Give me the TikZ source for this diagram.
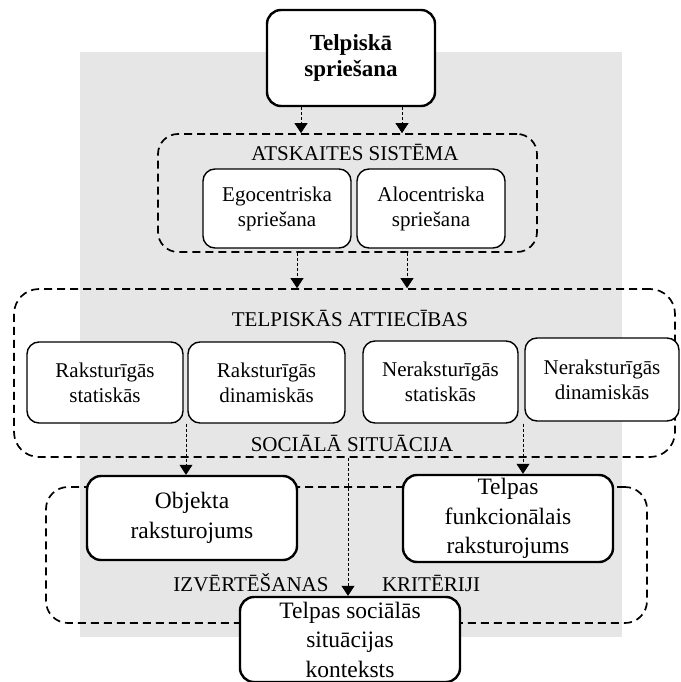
\documentclass[tikz,border=0pt]{standalone}
\usepackage{fontspec}
\setmainfont{Liberation Serif}
\usetikzlibrary{arrows.meta}
\definecolor{bg}{RGB}{230,230,230}
\begin{document}
\begin{tikzpicture}[x=1pt,y=-1pt,
  thinbox/.style={draw=black, fill=white, line width=1.4pt, rounded corners=12pt, align=center, font=\fontsize{21}{25}\selectfont, inner sep=0pt},
  thickbox/.style={draw=black, fill=white, line width=2.4pt, rounded corners=14pt, align=center, font=\fontsize{23.5}{29.5}\selectfont, inner sep=0pt},
  dbox/.style={draw=black, line width=1.7pt, dash pattern=on 8pt off 5pt, rounded corners=20pt, inner sep=0pt},
  lbl/.style={font=\fontsize{21}{25}\selectfont, inner sep=0pt},
  arr/.style={line width=0.8pt, dash pattern=on 3pt off 2pt, -{Triangle[width=13pt,length=10pt]}},
]
\useasboundingbox (0,0) rectangle (680,682);
\fill[bg] (80,52) rectangle (622,637);

% dashed group boxes
\node[dbox, minimum width=379, minimum height=118] (atsk) at (347.5,193) {};
\node[dbox, rounded corners=25pt, minimum width=661, minimum height=168] (big) at (344.5,373) {};
\node[dbox, rounded corners=22pt, minimum width=601, minimum height=136] (low) at (346.5,555) {};

% solid boxes
\node[thickbox, font=\bfseries\fontsize{23}{26}\selectfont, minimum width=168, minimum height=96] (top) at (351,58) {Telpiskā\\spriešana};
\node[thinbox, minimum width=148, minimum height=79] (ego) at (277,208.5) {Egocentriska\\spriešana};
\node[thinbox, minimum width=148, minimum height=79] (alo) at (431,208.5) {Alocentriska\\spriešana};
\node[thinbox, minimum width=156, minimum height=81] (b1) at (105,382.5) {Raksturīgās\\statiskās};
\node[thinbox, minimum width=157, minimum height=81] (b2) at (266.5,382.5) {Raksturīgās\\dinamiskās};
\node[thinbox, minimum width=155, minimum height=82] (b3) at (440.5,382) {Neraksturīgās\\statiskās};
\node[thinbox, minimum width=154, minimum height=83] (b4) at (602,379.5) {Neraksturīgās\\dinamiskās};
\node[thickbox, minimum width=210, minimum height=84] (obj) at (192,518) {Objekta\\raksturojums};
\node[thickbox, minimum width=210, minimum height=87] (fun) at (508,518.5) {Telpas\\funkcionālais\\raksturojums};
\node[thickbox, minimum width=220, minimum height=85] (soc) at (350,639.5) {Telpas sociālās\\situācijas\\konteksts};

% labels
\node[lbl] (l1) at (355,152) {ATSKAITES SISTĒMA};
\node[lbl] (l2) at (350,318) {TELPISKĀS ATTIECĪBAS};
\node[lbl] (l3) at (352,443) {SOCIĀLĀ SITUĀCIJA};
\node[lbl] (l4) at (251,583) {IZVĒRTĒŠANAS};
\node[lbl] (l5) at (431,583) {KRITĒRIJI};

% connectors
\coordinate (x1) at (301,0);
\coordinate (x2) at (402,0);
\coordinate (x3) at (297,0);
\coordinate (x4) at (407,0);
\coordinate (x5) at (186,0);
\coordinate (x6) at (523,0);
\coordinate (x7) at (348,0);
\draw[arr] (top.south -| x1) -- (atsk.north -| x1);
\draw[arr] (top.south -| x2) -- (atsk.north -| x2);
\draw[arr] (atsk.south -| x3) -- (big.north -| x3);
\draw[arr] (atsk.south -| x4) -- (big.north -| x4);
\draw[arr] (b2.south -| x5) -- (obj.north -| x5);
\draw[arr] (b3.south -| x6) -- (fun.north -| x6);
\draw[arr] (big.south -| x7) -- (soc.north -| x7);
\end{tikzpicture}
\end{document}
